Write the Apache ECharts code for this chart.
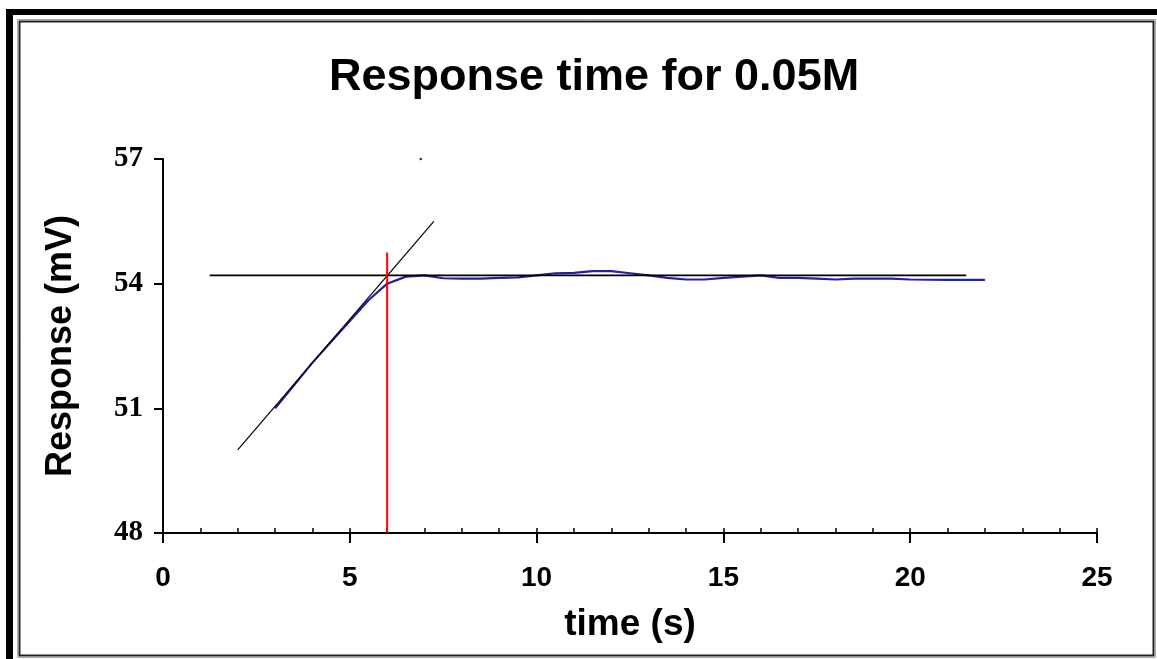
<!DOCTYPE html>
<html>
<head>
<meta charset="utf-8">
<script src="https://cdn.jsdelivr.net/npm/echarts@6/dist/echarts.min.js"></script>
<style>
html,body{margin:0;padding:0;background:#fff;}
#chart{width:1157px;height:659px;}
</style>
</head>
<body>
<div id="chart"></div>
<script>
// ---- data ----
const titleText = 'Response time for 0.05M';
const xName = 'time (s)';
const yName = 'Response (mV)';
const xTicks = [0, 5, 10, 15, 20, 25];
const yTicks = [48, 51, 54, 57];

// measured response (blue)
const timeS = [3, 3.5, 4, 4.5, 5, 5.5, 6, 6.5, 7, 7.5, 8, 8.5, 9, 9.5, 10, 10.5, 11, 11.5, 12, 12.5, 13, 13.5, 14, 14.5, 15, 15.5, 16, 16.5, 17, 17.5, 18, 18.5, 19, 19.5, 20, 21, 22];
const responseMV = [51.0, 51.55, 52.1, 52.6, 53.1, 53.6, 54.0, 54.17, 54.2, 54.13, 54.12, 54.12, 54.14, 54.15, 54.2, 54.25, 54.26, 54.3, 54.3, 54.25, 54.2, 54.14, 54.1, 54.1, 54.14, 54.17, 54.2, 54.14, 54.14, 54.12, 54.1, 54.12, 54.12, 54.12, 54.1, 54.09, 54.09];

// tangent of the rising part
const tangentX = [2, 7.25];
const tangentY = [50, 55.5];
// plateau line
const plateauX = [1.25, 21.5];
const plateauY = [54.2, 54.2];
// response time marker
const markerX = [6.0, 6.0];
const markerY = [48, 54.75];
// stray point
const strayX = [6.9];
const strayY = [57.0];

const zip = (a, b) => a.map((v, i) => [v, b[i]]);

const chart = echarts.init(document.getElementById('chart'));
const axisFontX = {fontFamily: "'Liberation Sans Narrow', 'Liberation Sans', Arial, sans-serif", fontWeight: 'bold', fontSize: 28, color: '#000'};
const axisFontY = {fontFamily: "'Liberation Serif', 'Times New Roman', serif", fontWeight: 'bold', fontSize: 29, color: '#000'};

chart.setOption({
  backgroundColor: '#fff',
  animation: false,
  title: {
    text: titleText,
    left: 324,
    top: 50,
    textStyle: {fontFamily: "'Liberation Sans', Arial, sans-serif", fontWeight: 'bold', fontSize: 45, color: '#000'}
  },
  grid: {left: 163, right: 60, top: 159, bottom: 126, containLabel: false},
  xAxis: [{
    type: 'value', min: 0, max: 25, interval: 5,
    name: xName, nameLocation: 'middle', nameGap: 73,
    nameTextStyle: {fontFamily: "'Liberation Sans', Arial, sans-serif", fontWeight: 'bold', fontSize: 37, color: '#000'},
    axisLine: {show: true, onZero: false, lineStyle: {color: '#000', width: 2}},
    axisTick: {show: true, inside: false, length: 10, lineStyle: {color: '#000', width: 2}},
    axisLabel: Object.assign({margin: 31, formatter: v => xTicks.includes(v) ? String(v) : ''}, axisFontX),
    splitLine: {show: false}
  }, {
    type: 'value', min: 0, max: 25, interval: 1, position: 'bottom',
    axisLine: {show: false},
    axisTick: {show: true, inside: true, length: 5, lineStyle: {color: '#000', width: 1.5}},
    axisLabel: {show: false},
    splitLine: {show: false}
  }],
  yAxis: {
    type: 'value', min: 48, max: 57, interval: 3,
    name: yName, nameLocation: 'middle', nameGap: 84,
    nameTextStyle: {fontFamily: "'Liberation Sans', Arial, sans-serif", fontWeight: 'bold', fontSize: 36, color: '#000'},
    axisLine: {show: true, onZero: false, lineStyle: {color: '#000', width: 2}},
    axisTick: {show: true, inside: false, length: 9, lineStyle: {color: '#000', width: 2}},
    axisLabel: Object.assign({margin: 20, formatter: v => yTicks.includes(v) ? String(v) : ''}, axisFontY),
    splitLine: {show: false}
  },
  series: [
    {type: 'line', data: zip(timeS, responseMV), showSymbol: false, symbol: 'none',
     lineStyle: {color: '#22229a', width: 2.2}, z: 2},
    {type: 'line', data: zip(tangentX, tangentY), symbol: 'none',
     lineStyle: {color: '#000', width: 1.2}, z: 3},
    {type: 'line', data: zip(plateauX, plateauY), symbol: 'none',
     lineStyle: {color: '#000', width: 1.6}, z: 3},
    {type: 'line', data: zip(markerX, markerY), symbol: 'none',
     lineStyle: {color: '#ff0000', width: 2}, z: 4},
    {type: 'scatter', data: zip(strayX, strayY), symbolSize: 2.5,
     itemStyle: {color: '#000'}, z: 4}
  ],
  graphic: [
    {type: 'rect', shape: {x: 6, y: 9, width: 7, height: 650}, style: {fill: '#000'}, silent: true},
    {type: 'rect', shape: {x: 6, y: 9, width: 1151, height: 6}, style: {fill: '#000'}, silent: true},
    {type: 'rect', shape: {x: 19.5, y: 21.5, width: 1134, height: 634}, style: {fill: null, stroke: '#222', lineWidth: 2}, silent: true},
    {type: 'rect', shape: {x: 17.5, y: 19.5, width: 1138, height: 638}, style: {fill: null, stroke: '#aaa', lineWidth: 1}, silent: true}
  ]
});
</script>
</body>
</html>
